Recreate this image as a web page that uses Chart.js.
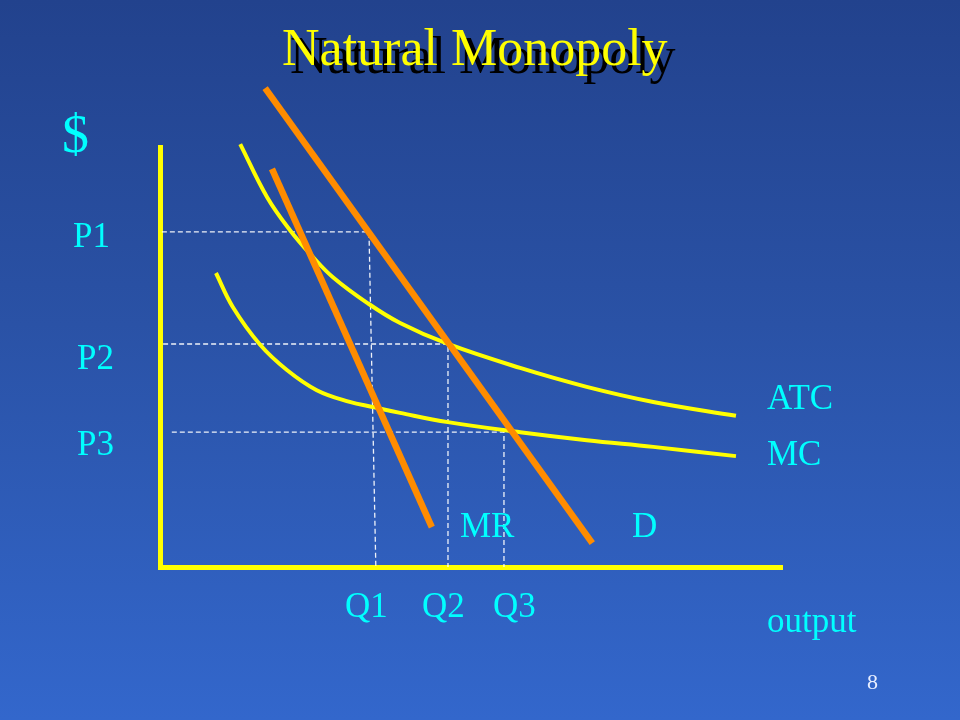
<!DOCTYPE html>
<html>
<head>
<meta charset="utf-8">
<title>Natural Monopoly</title>
<script src="https://cdn.jsdelivr.net/npm/chart.js@4"></script>
<style>
  html, body { margin: 0; padding: 0; }
  body {
    width: 960px; height: 720px; overflow: hidden;
    background: linear-gradient(to bottom, #22428d 0%, #2a52a6 45%, #3367cc 100%);
  }
  canvas { display: block; }
</style>
</head>
<body>
<canvas id="grafico" width="960" height="720"></canvas>
<script>
// --- Data (quantity 0..100 along the axis, $ 0..100 up the axis) ---
const titleText = 'Natural Monopoly';

const atcQ = [12.9, 17.2, 20.9, 24.6, 27.8, 33.3, 38.6, 46.3, 57.9, 68.6, 79.3, 92.6];
const atcP = [100.7, 88.1, 80.2, 73.8, 69.0, 62.9, 58.1, 53.1, 47.4, 42.9, 39.3, 36.0];

const mcQ = [9.0, 11.7, 16.1, 20.4, 25.2, 30.5, 34.2, 38.6, 46.3, 57.9, 68.6, 79.3, 92.6];
const mcP = [70.0, 61.9, 52.9, 46.9, 42.1, 39.3, 38.1, 36.7, 34.5, 32.1, 30.2, 28.6, 26.4];

const demandQ = [16.9, 69.5];
const demandP = [114.0, 5.7];

const mrQ = [18.0, 43.7];
const mrP = [94.8, 9.5];

// dashed guides: price level, where it starts, where it meets the curve, foot on the Q axis
const priceLabels = ['P1', 'P2', 'P3'];
const prices      = [79.8, 53.1, 32.1];
const guideStartQ = [0.3, 0.5, 1.9];
const guideTopQ   = [33.6, 46.3, 55.3];
const qtyLabels   = ['Q1', 'Q2', 'Q3'];
const quantities  = [34.7, 46.3, 55.3];

const curveLabels = ['ATC', 'MC', 'MR', 'D'];

// --- Helpers ---
const toPoints = (xs, ys) => xs.map((x, i) => ({ x, y: ys[i] }));

const line = (data, color, width, extra = {}) => ({
  data,
  showLine: true,
  borderColor: color,
  borderWidth: width,
  borderCapStyle: 'butt',
  pointRadius: 0,
  clip: false,
  ...extra
});

const guides = prices.map((p, i) => line(
  [{ x: guideStartQ[i], y: p }, { x: guideTopQ[i], y: p }, { x: quantities[i], y: 0 }],
  'rgba(255,255,255,0.92)', 1.3, { borderDash: [5, 3], order: 10 }
));

const YELLOW = '#ffff00';
const ORANGE = '#ff8c00';
const CYAN = '#00ffff';
const SERIF = '"Liberation Serif", "Times New Roman", serif';

// texts of the slide (positions in canvas px, left/baseline)
const slideText = {
  id: 'slideText',
  afterDraw(chart) {
    const ctx = chart.ctx;
    ctx.save();
    ctx.textAlign = 'left';
    ctx.textBaseline = 'alphabetic';

    ctx.font = `52px ${SERIF}`;
    ctx.fillStyle = '#000000';
    ctx.fillText(titleText, 290, 73);
    ctx.fillStyle = YELLOW;
    ctx.fillText(titleText, 282, 65);

    ctx.fillStyle = CYAN;
    ctx.font = `54px ${SERIF}`;
    ctx.fillText('$', 62, 152);

    ctx.font = `35px ${SERIF}`;
    [[73, 247], [77, 369], [77, 455]].forEach(([x, y], i) => ctx.fillText(priceLabels[i], x, y));
    [[345, 617], [422, 617], [493, 617]].forEach(([x, y], i) => ctx.fillText(qtyLabels[i], x, y));
    [[767, 409], [767, 465], [460, 537], [632, 537]].forEach(([x, y], i) => ctx.fillText(curveLabels[i], x, y));
    ctx.fillText('output', 767, 632);

    ctx.fillStyle = '#e8eeff';
    ctx.font = `22px ${SERIF}`;
    ctx.fillText('8', 867, 689);
    ctx.restore();
  }
};

const axis = {
  type: 'linear',
  min: 0,
  max: 100,
  grid: { display: false, drawTicks: false },
  ticks: { display: false },
  border: { display: true, color: YELLOW, width: 5 }
};

new Chart(document.getElementById('grafico'), {
  type: 'scatter',
  data: {
    datasets: [
      line(toPoints(mrQ, mrP), ORANGE, 6.5, { order: 1 }),
      line(toPoints(demandQ, demandP), ORANGE, 6.5, { order: 2 }),
      line(toPoints(atcQ, atcP), YELLOW, 4, { order: 3, tension: 0.4 }),
      line(toPoints(mcQ, mcP), YELLOW, 4, { order: 4, tension: 0.4 }),
      ...guides
    ]
  },
  options: {
    responsive: false,
    devicePixelRatio: 1,
    animation: false,
    layout: { padding: { left: 160, right: 178, top: 147, bottom: 153 } },
    scales: {
      x: { ...axis, position: 'bottom' },
      y: { ...axis, position: 'left' }
    },
    plugins: {
      legend: { display: false },
      tooltip: { enabled: false }
    }
  },
  plugins: [slideText]
});
</script>
</body>
</html>
